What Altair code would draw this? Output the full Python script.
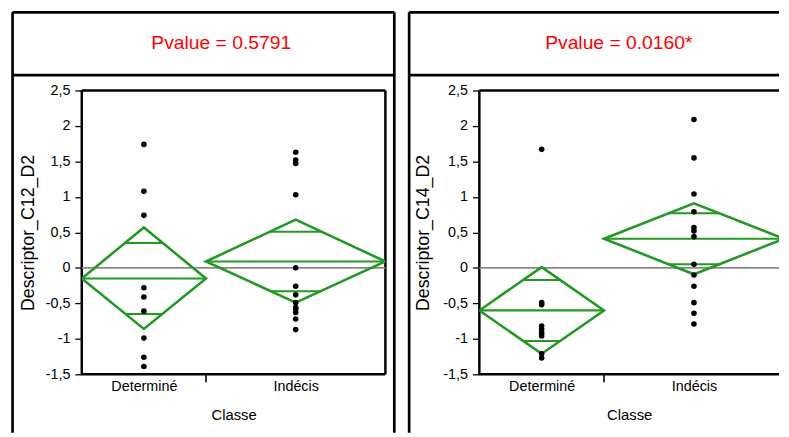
import altair as alt
import pandas as pd

# ---------------- data ----------------
categories = ["Determiné", "Indécis"]
group_n = [9, 13]
descriptors = ["Descriptor_C12_D2", "Descriptor_C14_D2"]
pvalue_labels = ["Pvalue = 0.5791", "Pvalue = 0.0160*"]

c12_determine = [1.74, 1.08, 0.74, -0.28, -0.41, -0.61, -0.99, -1.26, -1.39]
c12_indecis = [1.63, 1.52, 1.47, 1.03, 0.00, -0.26, -0.38, -0.49, -0.56, -0.58, -0.63, -0.72, -0.87]
c14_determine = [1.67, -0.49, -0.52, -0.82, -0.87, -0.92, -0.96, -1.21, -1.27]
c14_indecis = [2.09, 1.55, 1.04, 0.79, 0.57, 0.52, 0.44, 0.05, -0.10, -0.26, -0.49, -0.64, -0.79]

# means diamonds (per group): mean, 95% CI, overlap marks
c12_mean = [-0.15, 0.09]
c12_ci_low = [-0.86, -0.49]
c12_ci_high = [0.57, 0.68]
c12_ovl_low = [-0.65, -0.33]
c12_ovl_high = [0.35, 0.51]

c14_mean = [-0.60, 0.41]
c14_ci_low = [-1.21, -0.09]
c14_ci_high = [0.01, 0.91]
c14_ovl_low = [-1.03, 0.05]
c14_ovl_high = [-0.17, 0.77]

y_ticks = [-1.5, -1, -0.5, 0, 0.5, 1, 1.5, 2, 2.5]
y_domain = [-1.5, 2.5]

# ---------------- styling ----------------
GREEN = "#229922"
FONT = "Liberation Sans, Arial, sans-serif"
H = 287

starts = [0, group_n[0]]
ends = [group_n[0], group_n[0] + group_n[1]]
centers = [(s + e) / 2 for s, e in zip(starts, ends)]
total_n = ends[-1]
one = pd.DataFrame({"k": [0]})


def hrule(x1, x2, y, w):
    return alt.Chart(one).mark_rule(color="black", strokeWidth=w).encode(
        x=alt.value(x1), x2=alt.value(x2), y=alt.value(y))


def vrule(x, y1, y2, w):
    return alt.Chart(one).mark_rule(color="black", strokeWidth=w).encode(
        x=alt.value(x), y=alt.value(y1), y2=alt.value(y2))


def panel(idx, groups, mean, ci_low, ci_high, ovl_low, ovl_high, width, x_max,
          outer_left, outer_right, title_x):
    pts = pd.DataFrame([
        {"x": centers[g], "y": v} for g, vals in enumerate(groups) for v in vals])
    dia = []
    for g in range(2):
        dia += [
            {"g": g, "o": 0, "x": starts[g], "y": mean[g]},
            {"g": g, "o": 1, "x": centers[g], "y": ci_high[g]},
            {"g": g, "o": 2, "x": ends[g], "y": mean[g]},
            {"g": g, "o": 3, "x": centers[g], "y": ci_low[g]},
        ]
    dia = pd.DataFrame(dia)
    means = pd.DataFrame({"x": starts, "x2": ends, "y": mean})
    ovl = []
    for g in range(2):
        half = group_n[g] / 2
        fh = 1 - (ovl_high[g] - mean[g]) / (ci_high[g] - mean[g])
        fl = 1 - (mean[g] - ovl_low[g]) / (mean[g] - ci_low[g])
        ovl.append({"x": centers[g] - half * fh, "x2": centers[g] + half * fh, "y": ovl_high[g]})
        ovl.append({"x": centers[g] - half * fl, "x2": centers[g] + half * fl, "y": ovl_low[g]})
    ovl = pd.DataFrame(ovl)
    bnd = pd.DataFrame({"x": [ends[0]]})
    zero = pd.DataFrame({"y": [0]})

    label_expr = f"datum.value < {ends[0]} ? '{categories[0]}' : '{categories[1]}'"
    x_enc = alt.X("x:Q", scale=alt.Scale(domain=[0, x_max], nice=False, zero=False),
                  axis=alt.Axis(values=centers, labelExpr=label_expr, title="Classe",
                                ticks=False, tickSize=0, domain=False, grid=False,
                                labelPadding=5, labelFontSize=14.5, labelFlush=False,
                                titleFontSize=15, titleX=width / 2, titleY=41,
                                titleBaseline="middle"))
    y_enc = alt.Y("y:Q", scale=alt.Scale(domain=y_domain, nice=False, zero=False),
                  axis=alt.Axis(values=y_ticks, title=descriptors[idx],
                                labelExpr="replace(toString(datum.value), '.', ',')",
                                domain=False, grid=False, tickSize=7, tickWidth=1.3,
                                tickColor="black", labelPadding=5, labelFontSize=14.5,
                                titleFontSize=18, titleX=title_x, titleY=H / 2,
                                titleAlign="center", titleBaseline="middle"))

    layers = []
    # outer frame + header box
    layers.append(vrule(outer_left, -79, 346, 2.7))
    if outer_right is not None:
        layers.append(vrule(outer_right, -79, 346, 2.7))
        right_end = outer_right
    else:
        right_end = width
    layers.append(hrule(outer_left, right_end, -79, 2.7))
    layers.append(hrule(outer_left, right_end, -15.5, 2.7))
    # plot frame
    layers.append(hrule(0, width, 0, 2.5))
    layers.append(hrule(0, width, H, 2.5))
    layers.append(vrule(0, 0, H, 2.5))
    if outer_right is not None:
        layers.append(vrule(width, 0, H, 2.5))

    layers.append(alt.Chart(zero).mark_rule(color="#888888", strokeWidth=1.6).encode(y=y_enc))
    layers.append(alt.Chart(dia).mark_line(color=GREEN, strokeWidth=2.6, interpolate="linear-closed",
                                           clip=True).encode(
        x=x_enc, y=y_enc, detail="g:N", order="o:Q"))
    layers.append(alt.Chart(means).mark_rule(color=GREEN, strokeWidth=2.2, clip=True).encode(
        x=x_enc, x2="x2:Q", y=y_enc))
    layers.append(alt.Chart(ovl).mark_rule(color=GREEN, strokeWidth=2.0, clip=True).encode(
        x=x_enc, x2="x2:Q", y=y_enc))
    layers.append(alt.Chart(pts).mark_circle(color="black", opacity=1, size=32).encode(
        x=x_enc, y=y_enc))
    layers.append(alt.Chart(bnd).mark_rule(color="black", strokeWidth=1.6).encode(
        x=x_enc, y=alt.value(H), y2=alt.value(H + 8)))
    layers.append(alt.Chart(one).mark_text(color="#ff0000", font=FONT, fontSize=19.5,
                                           align="center", baseline="middle").encode(
        x=alt.value(141), y=alt.value(-48), text=alt.value(pvalue_labels[idx])))

    return alt.layer(*layers).properties(width=width, height=H)


left = panel(0, [c12_determine, c12_indecis], c12_mean, c12_ci_low, c12_ci_high,
             c12_ovl_low, c12_ovl_high, 307, total_n, -70, 316, -54)
right_w = 303
right = panel(1, [c14_determine, c14_indecis], c14_mean, c14_ci_low, c14_ci_high,
              c14_ovl_low, c14_ovl_high, right_w, total_n * right_w / 308, -71, None, -56)

chart = alt.hconcat(left, right, spacing=95, bounds="flush").properties(
    padding={"left": 2.6, "top": 0, "right": 0, "bottom": 0}
).configure_view(stroke=None).configure_axis(
    labelFont=FONT, titleFont=FONT, labelColor="black", titleColor="black",
    titleFontWeight="normal"
)

chart.save("out.html", embed_options={"renderer": "svg", "actions": False})
